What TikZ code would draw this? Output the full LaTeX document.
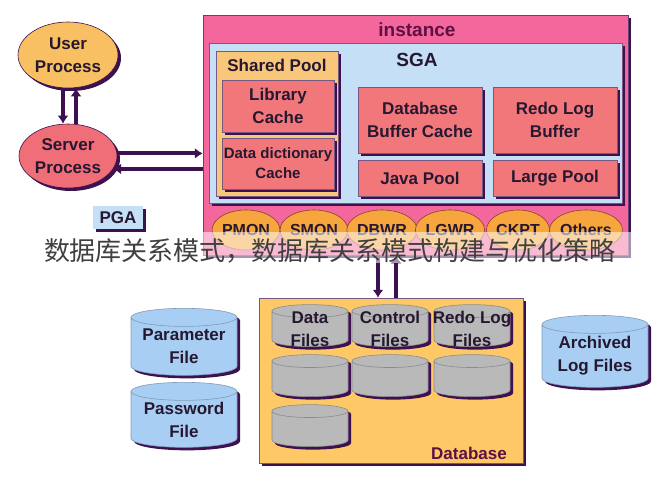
\documentclass[tikz,border=0pt]{standalone}
\usepackage{fontspec}
\setmainfont{Liberation Sans}
\newfontfamily\cjkfont{Noto Sans CJK SC}
\usetikzlibrary{shapes.geometric,shadows,arrows.meta}

\definecolor{shd}{HTML}{3D1050}
\definecolor{instpink}{HTML}{F4679D}
\definecolor{sgablue}{HTML}{C4DFF6}
\definecolor{poolorange}{HTML}{F9C77A}
\definecolor{cachered}{HTML}{F2777A}
\definecolor{userorange}{HTML}{F8C062}
\definecolor{serverred}{HTML}{EF6E78}
\definecolor{procorange}{HTML}{F6A63C}
\definecolor{dbyellow}{HTML}{FDC865}
\definecolor{diskgray}{HTML}{B9B9B9}
\definecolor{fileblue}{HTML}{A8CFF3}
\definecolor{txt}{HTML}{261830}
\definecolor{maroon}{HTML}{5E1045}

\newcommand{\fs}[2]{\fontsize{#1}{#2}\selectfont}

\begin{document}
\begin{tikzpicture}[x=1pt,y=-1pt,
    every node/.style={font=\bfseries, text=txt, inner sep=0pt},
    shadowed/.style={drop shadow={shadow xshift=3pt,shadow yshift=-3pt,fill=shd,opacity=1}},
    membox/.style={rectangle,draw=shd!70,line width=0.5pt,fill=cachered,shadowed,
                   align=center,font=\bfseries\fs{17}{23}},
    procell/.style={ellipse,draw=shd,line width=0.6pt,shadowed,align=center,
                   font=\bfseries\fs{17}{23}},
    bgproc/.style={ellipse,draw=shd!60!orange,line width=0.6pt,fill=procorange,
                   minimum width=63pt,minimum height=40pt,font=\bfseries\fs{16}{18}},
    disktext/.style={align=center,font=\bfseries\fs{17}{23}},
    disk/.style={cylinder,shape border rotate=90,aspect=0.17,line width=0.6pt,shadowed},
    dbdisk/.style={disk,fill=diskgray,draw=diskgray!75!black,minimum width=76pt,
                   minimum height=42pt,execute at begin node={\hspace*{76pt}}},
    filedisk/.style={disk,fill=fileblue,draw=fileblue!75!black,minimum width=106pt,
                     execute at begin node={\hspace*{106pt}}},
    link/.style={draw=shd,line width=4pt,-{Latex[length=8pt,width=11pt]}}]
  \useasboundingbox (0,0) rectangle (657,490);

  % client side
  \node[procell,fill=userorange,minimum width=100pt,minimum height=66pt] (user) at (68,55) {User\\Process};
  \node[procell,fill=serverred,minimum width=98pt,minimum height=64pt] (sp) at (68,156) {Server\\Process};
  \node[rectangle,fill=sgablue,shadowed,minimum width=50pt,minimum height=23pt,font=\bfseries\fs{17}{19}] (pga) at (118,217.5) {PGA};

  % instance
  \node[rectangle,fill=instpink,draw=shd!80,line width=0.5pt,shadowed,minimum width=425pt,minimum height=240pt] (inst) at (415.5,135) {};
  \node[text=maroon,font=\bfseries\fs{19}{21}] (instlbl) at (417,30) {instance};
  \node[rectangle,fill=sgablue,draw=shd!70,line width=0.5pt,shadowed,minimum width=413pt,minimum height=160pt] (sga) at (415.5,123) {};
  \node[font=\bfseries\fs{19}{21}] (sgalbl) at (417,60) {SGA};
  \node[rectangle,fill=poolorange,draw=shd!70,line width=0.5pt,shadowed,minimum width=122pt,minimum height=145pt] (pool) at (277,123.5) {};
  \node[font=\bfseries\fs{17}{19}] (poollbl) at (277,65) {Shared Pool};
  \node[membox,minimum width=112pt,minimum height=52pt] (lib) at (278,106) {Library\\Cache};
  \node[membox,minimum width=112pt,minimum height=51pt,font=\bfseries\fs{15}{20}] (dict) at (278,163.5) {Data dictionary\\Cache};
  \node[membox,minimum width=124pt,minimum height=66pt] (dbbuf) at (420,120) {Database\\Buffer Cache};
  \node[membox,minimum width=124pt,minimum height=66pt] (redobuf) at (555,120) {Redo Log\\Buffer};
  \node[membox,minimum width=124pt,minimum height=36pt] (java) at (420,178) {Java Pool};
  \node[membox,minimum width=124pt,minimum height=36pt] (large) at (555,178) {Large Pool};
  \foreach \name [count=\i from 0] in {PMON,SMON,DBWR,LGWR,CKPT,Others}
    \node[bgproc] (\name) at (246+68*\i,230) {\name};

  % database
  \node[rectangle,fill=dbyellow,draw=shd!70,line width=0.5pt,shadowed,minimum width=264pt,minimum height=165pt] (db) at (391,380.5) {};
  \node[text=maroon,font=\bfseries\fs{17}{19}] (dblbl) at (469,453) {Database};
  \node[dbdisk,label={[disktext]center:{Data\\Files}}] (data) at (310,329) {};
  \node[dbdisk,label={[disktext]center:{Control\\Files}}] (ctrl) at (390,329) {};
  \node[dbdisk,label={[disktext]center:{Redo Log\\Files}}] (redo) at (472,329) {};
  \node[dbdisk] (d21) at (310,379) {};
  \node[dbdisk] (d22) at (390,379) {};
  \node[dbdisk] (d23) at (472,379) {};
  \node[dbdisk] (d31) at (310,429) {};

  % files outside the database
  \node[filedisk,minimum height=67pt,label={[disktext]center:{Parameter\\File}}] (param) at (184,346.5) {};
  \node[filedisk,minimum height=65pt,label={[disktext]center:{Password\\File}}] (passwd) at (184,419.5) {};
  \node[filedisk,minimum height=72pt,label={[disktext]center:{Archived\\Log Files}}] (arch) at (595,356) {};

  % connectors
  \draw[link] ([xshift=-5pt]user.south) -- ([xshift=-5pt]sp.north);
  \draw[link] ([xshift=8pt]sp.north) -- ([xshift=8pt]user.south);
  \draw[link] (sp.3) -- (sp.3 -| inst.west);
  \draw[link] (sp.-16 -| inst.west) -- (sp.-16);
  \coordinate (dbin) at ([xshift=-13pt]db.north);
  \coordinate (dbout) at ([xshift=5pt]db.north);
  \draw[link] (dbin |- inst.south) -- (dbin);
  \draw[link] (dbout) -- (dbout |- inst.south);

  % caption band
  \fill[white,opacity=0.55] (0,232) rectangle (657,263);
  \node[font=\cjkfont\fs{26}{28},text=black!75] (caption) at (330,251) {数据库关系模式，数据库关系模式构建与优化策略};
\end{tikzpicture}
\end{document}
